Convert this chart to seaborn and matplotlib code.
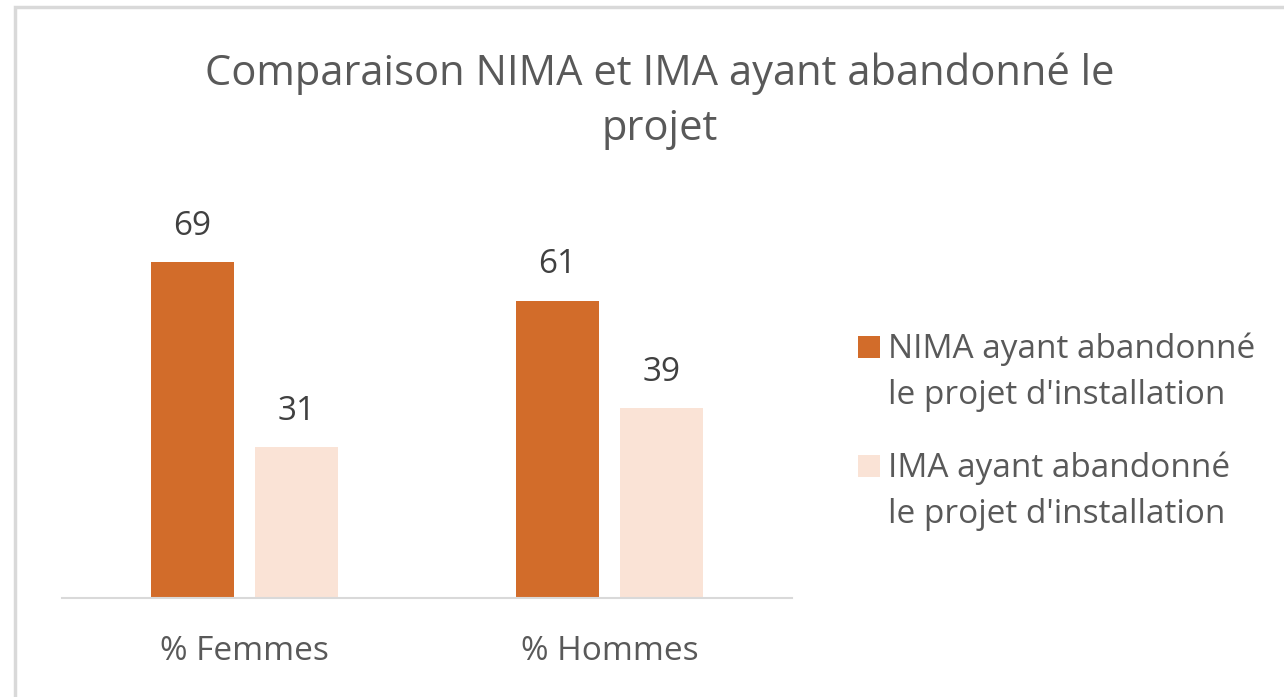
import matplotlib
matplotlib.use("Agg")
import matplotlib.pyplot as plt
import pandas as pd
import seaborn as sns
from matplotlib.patches import Rectangle

CATEGORIES = ["% Femmes", "% Hommes"]
SERIES = ["NIMA ayant abandonné\nle projet d'installation",
          "IMA ayant abandonné\nle projet d'installation"]
NIMA_VALUES = [69, 61]
IMA_VALUES = [31, 39]
TITLE = "Comparaison NIMA et IMA ayant abandonné le\nprojet"

COLORS = ["#D26C2A", "#FAE3D6"]
TEXT_COLOR = "#595959"

W, H = 1284, 697

sns.set_theme(style="white")
plt.rcParams["font.family"] = ["Open Sans", "DejaVu Sans"]

df = pd.DataFrame({
    "categorie": CATEGORIES * 2,
    "serie": [SERIES[0]] * len(CATEGORIES) + [SERIES[1]] * len(CATEGORIES),
    "valeur": NIMA_VALUES + IMA_VALUES,
})

fig = plt.figure(figsize=(W / 100, H / 100), dpi=100)
fig.patch.set_facecolor("white")

# axes placed in pixel terms: x 62..792, baseline at y=598
ax_left, ax_right = 62 / W, 792 / W
ax_bottom, ax_top = 1 - 598 / H, 1 - 190 / H
ax = fig.add_axes([ax_left, ax_bottom, ax_right - ax_left, ax_top - ax_bottom])

sns.barplot(
    data=df, x="categorie", y="valeur", hue="serie",
    palette=COLORS, width=0.573, gap=0.21, ax=ax, legend=False,
    saturation=1, edgecolor="none",
)

px_per_unit = 4.87
ax.set_ylim(0, (598 - 190) / px_per_unit)
ax.set_xlim(-0.5, 1.5)

for container in ax.containers:
    ax.bar_label(container, fmt="%d", padding=14, fontsize=24, color="#404040")

ax.set_xlabel("")
ax.set_ylabel("")
ax.set_yticks([])
ax.tick_params(axis="x", length=0, pad=27, labelsize=24, labelcolor=TEXT_COLOR)
for side in ["top", "right", "left"]:
    ax.spines[side].set_visible(False)
ax.spines["bottom"].set_color("#D9D9D9")
ax.spines["bottom"].set_linewidth(1.5)

fig.text(660 / W, 1 - 101 / H, TITLE, ha="center", va="center",
         fontsize=30, color=TEXT_COLOR, linespacing=1.41)

# legend: square key next to the first text line, as in the original
LINE_GAP = 46
legend_baselines = [358, 477]
for color, label, base in zip(COLORS, SERIES, legend_baselines):
    fig.patches.append(Rectangle((858 / W, 1 - base / H), 22 / W, 22 / H,
                                 transform=fig.transFigure, facecolor=color,
                                 edgecolor="none"))
    # va="baseline" anchors the last line of a multi-line text
    fig.text(888 / W, 1 - (base + LINE_GAP) / H, label, ha="left", va="baseline",
             fontsize=24, color=TEXT_COLOR, linespacing=1.53)

# outer chart border (light gray), open to the right and bottom
fig.patches.append(Rectangle((15 / W, -0.1), 1.2, 1 - 7 / H + 0.1,
                             transform=fig.transFigure, fill=False,
                             edgecolor="#D9D9D9", linewidth=2.5))

fig.savefig("out.png", dpi=100)
